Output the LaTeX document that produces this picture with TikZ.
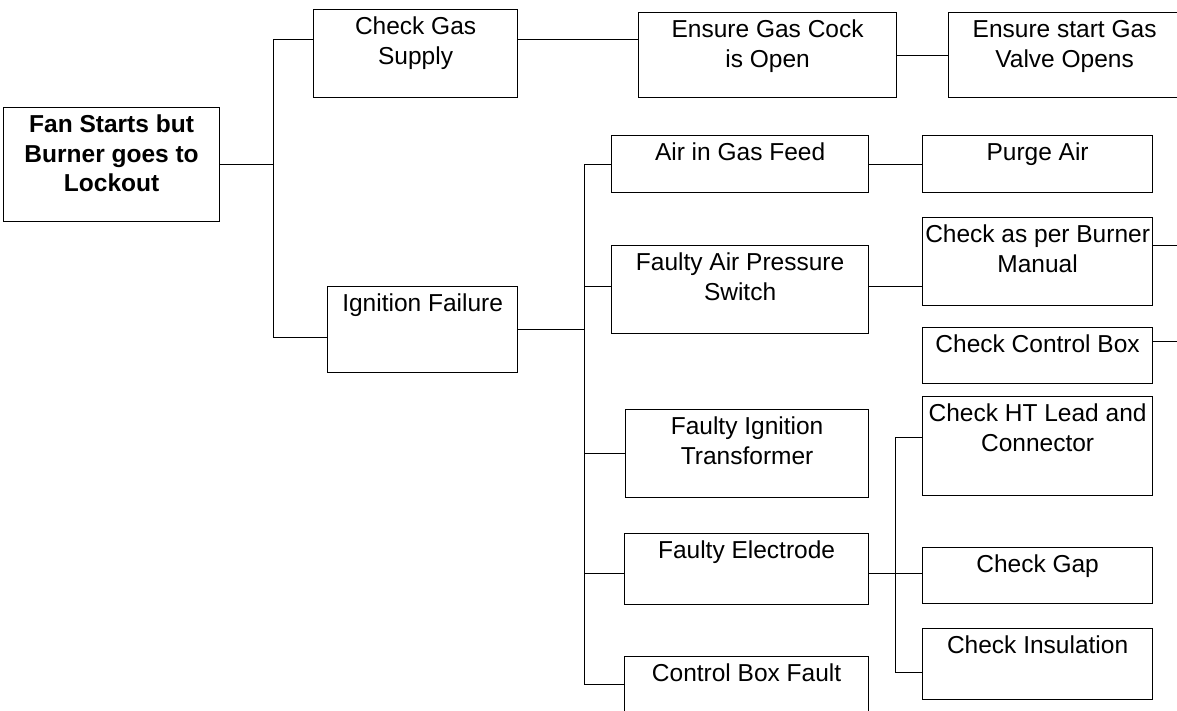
\documentclass[tikz,border=0pt]{standalone}
\usepackage{fontspec}
\setmainfont{Liberation Sans}
\usetikzlibrary{calc}

\begin{document}
\begin{tikzpicture}[
x=1pt,y=-1pt,
tbox/.style n args={2}{draw,line width=1.2pt,anchor=north west,inner sep=0pt,
  font=\fontsize{24.5}{29.5}\selectfont,
  execute at begin node={\begin{minipage}[t][#2pt][t]{#1pt}\centering\rule{0pt}{25pt}},
  execute at end node={\end{minipage}}},
link/.style={line width=1pt}
]
\useasboundingbox (0,0) rectangle (1177,711);
\clip (0,0) rectangle (1177,711);

\node[tbox={216}{114},font=\fontsize{24.5}{29.5}\selectfont\bfseries] (lockout) at (3,107) {Fan Starts but\\Burner goes to\\Lockout};
\node[tbox={204}{88}] (gas) at (313,9) {Check Gas\\Supply};
\node[tbox={258}{85}] (cock) at (638,12) {Ensure Gas Cock\\is Open};
\node[tbox={232}{85}] (valve) at (948,12) {Ensure start Gas\\Valve Opens};
\node[tbox={190}{86}] (ignition) at (327,286) {Ignition Failure};

\node[tbox={257}{57}] (air) at (611,135) {Air in Gas Feed};
\node[tbox={257}{88}] (pressure) at (611,245) {Faulty Air Pressure\\Switch};
\node[tbox={243}{88}] (transformer) at (625,409) {Faulty Ignition\\Transformer};
\node[tbox={244}{71}] (electrode) at (624,533) {Faulty Electrode};
\node[tbox={244}{71}] (ctrlfault) at (624,656) {Control Box Fault};

\node[tbox={230}{57}] (purge) at (922,135) {Purge Air};
\node[tbox={230}{88}] (manual) at (922,217) {Check as per Burner\\Manual};
\node[tbox={230}{56}] (ctrlbox) at (922,327) {Check Control Box};
\node[tbox={230}{99}] (htlead) at (922,396) {Check HT Lead and\\Connector};
\node[tbox={230}{56}] (gap) at (922,547) {Check Gap};
\node[tbox={230}{71}] (insulation) at (922,628) {Check Insulation};

\draw[link] ([yshift=14]gas.west) -- ++(-40,0) coordinate (j1) |- ([yshift=-8]ignition.west);
\draw[link] (lockout.east) -- (lockout.east -| j1);
\draw[link] ([yshift=14]gas.east) -- ([yshift=14]gas.east -| cock.west);
\draw[link] (cock.east) -- (valve.west);

\draw[link] (air.west) -- ++(-27,0) coordinate (j2) |- ([yshift=7.5]ctrlfault.west);
\draw[link] (ignition.east) -- (ignition.east -| j2);
\draw[link] ([yshift=3]pressure.west) -- ([yshift=3]pressure.west -| j2);
\draw[link] (transformer.west) -- (transformer.west -| j2);
\draw[link] ([yshift=-4.5]electrode.west) -- ([yshift=-4.5]electrode.west -| j2);

\draw[link] (air.east) -- (purge.west);
\draw[link] ([yshift=3]pressure.east) -- ([yshift=3]pressure.east -| manual.west);
\draw[link] ([yshift=16]manual.east) -- ++(30,0);
\draw[link] ([yshift=14]ctrlbox.east) -- ++(30,0);

\draw[link] ([yshift=8.5]htlead.west) -- ++(-27,0) coordinate (j3) |- ([yshift=-8.5]insulation.west);
\draw[link] ([yshift=-4.5]electrode.east) -- ([yshift=-4.5]electrode.east -| gap.west);
\end{tikzpicture}
\end{document}
